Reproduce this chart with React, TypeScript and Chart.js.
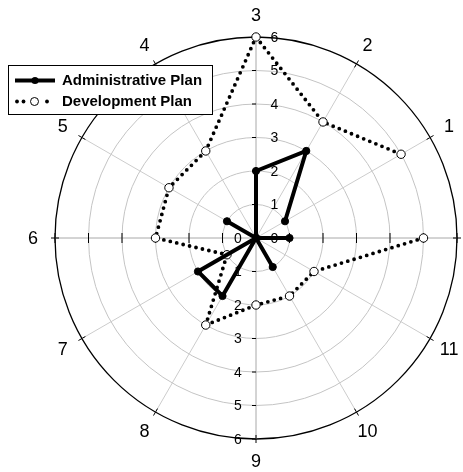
import React, { useEffect, useRef } from 'react';
import { Chart, registerables } from 'chart.js';

Chart.register(...registerables);

// ---- data (directions 1..12 counter-clockwise from the right) ----
const directions = ['1', '2', '3', '4', '5', '6', '7', '8', '9', '10', '11', '12'];
const administrativePlan = [1, 3, 2, 0, 1, 0, 2, 2, 0, 1, 0, 1];
const developmentPlan = [5, 4, 6, 3, 3, 3, 1, 3, 2, 2, 2, 5];
const radialTicks = [0, 1, 2, 3, 4, 5, 6];
const seriesNames = ['Administrative Plan', 'Development Plan'];

// ---- layout ----
const W = 463;
const H = 472;
const CX = 256;
const CY = 238;
const RADIUS = 201;
const FONT = 'Arial, "Liberation Sans", Helvetica, sans-serif';

// Chart.js radar goes clockwise; the original goes counter-clockwise, so reverse.
const chartLabels = directions.slice().reverse();
const adminData = administrativePlan.slice().reverse();
const devData = developmentPlan.slice().reverse();

const openLinePlugin = {
  id: 'openLine',
  afterDatasetsUpdate(chart: any) {
    chart.getSortedVisibleDatasetMetas().forEach((meta: any) => {
      const line = meta.dataset;
      if (line) {
        line._loop = false;
        line._fullLoop = false;
        line._segments = undefined;
        line._path = undefined;
      }
    });
  },
};

function seg(ctx: CanvasRenderingContext2D, x1: number, y1: number, x2: number, y2: number) {
  ctx.beginPath();
  ctx.moveTo(x1, y1);
  ctx.lineTo(x2, y2);
  ctx.stroke();
}

const decorPlugin = {
  id: 'decor',
  beforeDatasetsDraw(chart: any) {
    const s = chart.scales.r;
    const ctx: CanvasRenderingContext2D = chart.ctx;
    const cx = s.xCenter;
    const cy = s.yCenter;
    ctx.save();
    ctx.strokeStyle = '#000';
    ctx.lineWidth = 1;
    radialTicks.forEach((v) => {
      if (v === 0) return;
      const d = s.getDistanceFromCenterForValue(v);
      seg(ctx, cx - 4, cy - d, cx, cy - d);
      seg(ctx, cx - 4, cy + d, cx, cy + d);
      seg(ctx, cx + d, cy - 5, cx + d, cy + 5);
      seg(ctx, cx - d, cy - 5, cx - d, cy + 5);
    });
    const outer = s.getDistanceFromCenterForValue(radialTicks[radialTicks.length - 1]);
    chartLabels.forEach((_, i) => {
      const a = s.getPointPosition(i, outer - 4);
      const b = s.getPointPosition(i, outer + 4);
      seg(ctx, a.x, a.y, b.x, b.y);
    });
    // radial tick labels
    ctx.fillStyle = '#000';
    ctx.font = `14px ${FONT}`;
    ctx.textAlign = 'center';
    ctx.textBaseline = 'middle';
    radialTicks.forEach((v) => {
      const d = s.getDistanceFromCenterForValue(v);
      ctx.fillText(String(v), cx + 18.5, cy - d + 1);
      ctx.fillText(String(v), cx - 18, cy + d + 1);
    });
    // direction labels
    ctx.font = `18px ${FONT}`;
    chartLabels.forEach((lab, i) => {
      const p = s.getPointPosition(i, outer + 22);
      if (p.x > chart.width - 4) return;
      ctx.fillText(lab, p.x, p.y + 1);
    });
    ctx.restore();
  },
  afterDraw(chart: any) {
    const ctx: CanvasRenderingContext2D = chart.ctx;
    ctx.save();
    ctx.fillStyle = '#fff';
    ctx.fillRect(8.5, 65.5, 204, 49);
    ctx.strokeStyle = '#000';
    ctx.lineWidth = 1;
    ctx.strokeRect(8.5, 65.5, 204, 49);
    // row 1: solid
    const y1 = 80.5;
    ctx.lineWidth = 4;
    seg(ctx, 15, y1, 55, y1);
    ctx.fillStyle = '#000';
    ctx.beginPath();
    ctx.arc(35, y1, 3.6, 0, Math.PI * 2);
    ctx.fill();
    // row 2: dotted
    const y2 = 101.5;
    ctx.fillStyle = '#000';
    [17, 23.5, 47].forEach((x) => {
      ctx.beginPath();
      ctx.arc(x, y2, 1.9, 0, Math.PI * 2);
      ctx.fill();
    });
    ctx.beginPath();
    ctx.arc(34.5, y2, 4, 0, Math.PI * 2);
    ctx.fillStyle = '#fff';
    ctx.fill();
    ctx.lineWidth = 1;
    ctx.strokeStyle = '#000';
    ctx.stroke();
    // text
    ctx.fillStyle = '#000';
    ctx.font = `bold 15px ${FONT}`;
    ctx.textAlign = 'left';
    ctx.textBaseline = 'middle';
    ctx.fillText(seriesNames[0], 62, y1 + 0.5);
    ctx.fillText(seriesNames[1], 62, y2 + 0.5);
    ctx.restore();
  },
};

export default function App() {
  const canvasRef = useRef<HTMLCanvasElement | null>(null);

  useEffect(() => {
    const canvas = canvasRef.current;
    if (!canvas) return;
    const chart = new Chart(canvas, {
      type: 'radar',
      data: {
        labels: chartLabels,
        datasets: [
          {
            label: seriesNames[0],
            data: adminData,
            fill: false,
            borderColor: '#000',
            backgroundColor: 'rgba(0,0,0,0)',
            borderWidth: 4,
            pointRadius: 3.6,
            pointBackgroundColor: '#000',
            pointBorderColor: '#000',
            pointBorderWidth: 1,
          },
          {
            label: seriesNames[1],
            data: devData,
            fill: false,
            borderColor: '#000',
            backgroundColor: 'rgba(0,0,0,0)',
            borderWidth: 3.8,
            borderDash: [0, 6.6],
            borderCapStyle: 'round',
            pointRadius: 4.2,
            pointBackgroundColor: '#fff',
            pointBorderColor: '#000',
            pointBorderWidth: 1,
          },
        ],
      },
      options: {
        responsive: false,
        animation: false,
        events: [],
        layout: { padding: 0 },
        elements: { line: { tension: 0 } },
        plugins: {
          legend: { display: false },
          tooltip: { enabled: false },
          title: { display: false },
        },
        scales: {
          r: {
            min: 0,
            max: 6,
            startAngle: 90,
            ticks: { display: false, stepSize: 1 },
            pointLabels: { display: false },
            grid: {
              circular: true,
              color: (c: any) => (c.tick && c.tick.value === 6 ? '#000' : '#c4c4c4'),
              lineWidth: (c: any) => (c.tick && c.tick.value === 6 ? 1.3 : 1),
            },
            angleLines: {
              color: (c: any) => (c.index % 3 === 0 ? '#a8a8a8' : '#cccccc'),
              lineWidth: 1,
            },
            afterFit: (scale: any) => {
              scale.xCenter = CX;
              scale.yCenter = CY;
              scale.drawingArea = RADIUS;
            },
          },
        },
      } as any,
      plugins: [openLinePlugin, decorPlugin],
    });
    return () => chart.destroy();
  }, []);

  return (
    <div style={{ position: 'absolute', left: 0, top: 0, width: W, height: H, background: '#fff' }}>
      <canvas ref={canvasRef} width={W} height={H} style={{ display: 'block', width: W, height: H }} />
    </div>
  );
}
